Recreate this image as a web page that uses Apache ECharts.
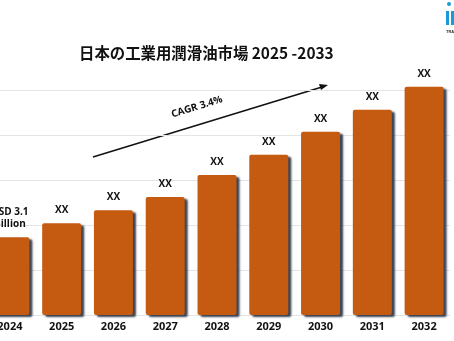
<!DOCTYPE html>
<html><head><meta charset="utf-8">
<script src="https://cdn.jsdelivr.net/npm/echarts@6/dist/echarts.min.js"></script>
<style>html,body{margin:0;padding:0;background:#fff;overflow:hidden}#c{position:absolute;left:-16px;top:0;width:470px;height:341px}</style>
</head><body><div id="c"></div>
<script>
const title = '日本の工業用潤滑油市場 2025 -2033';
const categories = ['2024','2025','2026','2027','2028','2029','2030','2031','2032'];
const values = [1.73, 2.04, 2.33, 2.62, 3.11, 3.56, 4.07, 4.56, 5.07];
const barLabels = ['USD 3.1\nBillion','XX','XX','XX','XX','XX','XX','XX','XX'];
const cagrText = 'CAGR 3.4%';

const OX = 16; // offset of the canvas relative to the window
const chart = echarts.init(document.getElementById('c'), null, {renderer:'canvas'});
const FONT = '"Open Sans","Noto Sans CJK JP",sans-serif';
chart.setOption({
  animation:false,
  backgroundColor:'#ffffff',
  title:{text:title,left:79+OX,top:45,padding:0,
    textStyle:{fontSize:15.4,fontWeight:'bold',color:'#111',fontFamily:'"Noto Sans CJK JP","Open Sans",sans-serif'}},
  grid:{left:0,right:4,top:90,bottom:26,containLabel:false},
  xAxis:{type:'category',data:categories,
    axisLine:{show:false},axisTick:{show:false},
    axisLabel:{color:'#111',fontSize:11,fontWeight:'bold',fontFamily:FONT,margin:6}},
  yAxis:{type:'value',min:0,max:5,interval:1,
    axisLabel:{show:false},axisLine:{show:false},axisTick:{show:false},
    splitLine:{lineStyle:{color:'#e4e4e4',width:1}}},
  series:[{type:'bar',data:values,barWidth:39,clip:false,
    itemStyle:{color:'#C55A11',borderRadius:2,shadowColor:'rgba(25,35,55,0.85)',shadowOffsetX:3,shadowOffsetY:2,shadowBlur:2},
    label:{show:true,position:'top',distance:7,fontSize:10,fontWeight:'bold',color:'#111',fontFamily:FONT,lineHeight:12,
      formatter:p=>barLabels[p.dataIndex]}}],
  graphic:[
    {type:'line',shape:{x1:93+OX,y1:157,x2:322+OX,y2:87},style:{stroke:'#111',lineWidth:1.5}},
    {type:'polygon',shape:{points:[[328+OX,85],[319+OX,84],[321+OX,90]]},style:{fill:'#111'}},
    {type:'text',x:197+OX,y:107,rotation:17*Math.PI/180,
      style:{text:cagrText,fill:'#111',font:'bold 10px "Open Sans",sans-serif',align:'center',verticalAlign:'middle'}},
    {type:'circle',shape:{cx:449+OX,cy:4,r:2},style:{fill:'#1a9ad6'}},
    {type:'rect',shape:{x:446+OX,y:11,width:3,height:14},style:{fill:'#1a9ad6'}},
    {type:'rect',shape:{x:451+OX,y:11,width:3,height:14},style:{fill:'#1a9ad6'}},
    {type:'text',x:446+OX,y:30,style:{text:'TRA',fill:'#333',font:'bold 4px sans-serif'}}
  ]
});
</script></body></html>
